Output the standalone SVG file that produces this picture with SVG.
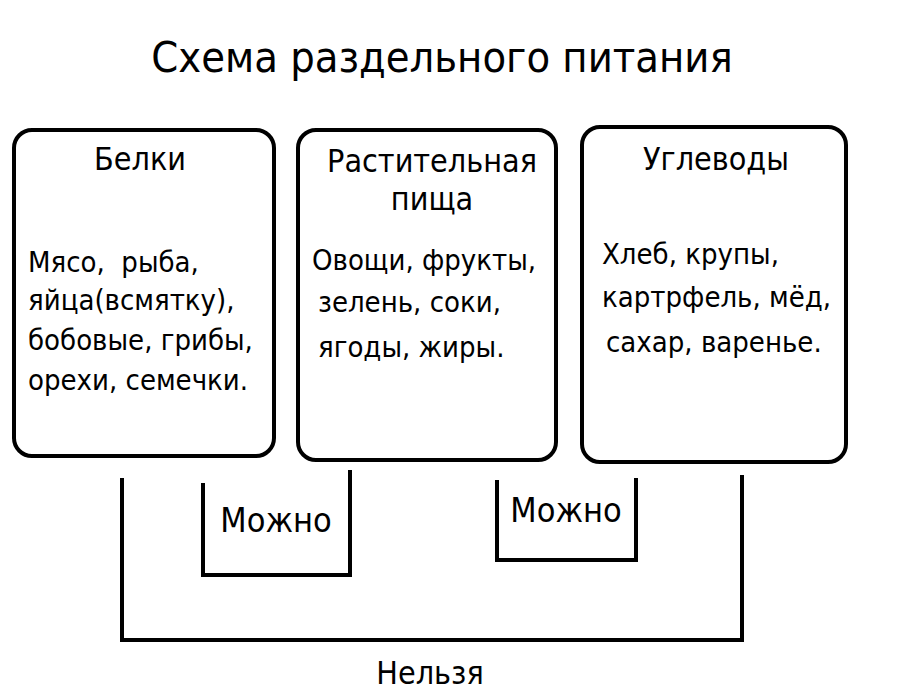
<svg xmlns="http://www.w3.org/2000/svg" width="900" height="700" viewBox="0 0 900 700">
<style>
text{font-family:"DejaVu Sans","Liberation Sans",sans-serif;font-stretch:condensed;fill:#000}
.box{fill:#fff;stroke:#000;stroke-width:4}
.ln{fill:none;stroke:#000;stroke-width:4}
.h{font-size:32px;text-anchor:middle}
.b{font-size:29px}
</style>
<rect width="900" height="700" fill="#fff"/>
<text x="442" y="72" text-anchor="middle" font-size="43">Схема раздельного питания</text>
<g id="belki">
<rect class="box" x="14" y="130" width="260" height="326" rx="18"/>
<text class="h" x="140" y="170">Белки</text>
<text class="b" x="28" y="272" xml:space="preserve">Мясо,  рыба,</text>
<text class="b" x="28" y="310">яйца(всмятку),</text>
<text class="b" x="28" y="350">бобовые, грибы,</text>
<text class="b" x="28" y="390">орехи, семечки.</text>
</g>
<g id="rast">
<rect class="box" x="298" y="130" width="258" height="330" rx="18"/>
<text class="h" x="432" y="172">Растительная</text>
<text class="h" x="432" y="210">пища</text>
<text class="b" x="312" y="270">Овощи, фрукты,</text>
<text class="b" x="318" y="312">зелень, соки,</text>
<text class="b" x="318" y="357">ягоды, жиры.</text>
</g>
<g id="ugl">
<rect class="box" x="582" y="127" width="264" height="335" rx="18"/>
<text class="h" x="716" y="170">Углеводы</text>
<text class="b" x="602" y="264">Хлеб, крупы,</text>
<text class="b" x="602" y="307">картрфель, мёд,</text>
<text class="b" x="606" y="352">сахар, варенье.</text>
</g>
<g id="connectors">
<polyline class="ln" points="122,478 122,640 742,640 742,475"/>
<polyline class="ln" points="203,483 203,575 350,575 350,470"/>
<polyline class="ln" points="497,480 497,560 636,560 636,478"/>
</g>
<text x="276" y="532" font-size="34" text-anchor="middle">Можно</text>
<text x="566" y="522" font-size="34" text-anchor="middle">Можно</text>
<text x="430" y="684" font-size="32" text-anchor="middle">Нельзя</text>
</svg>
